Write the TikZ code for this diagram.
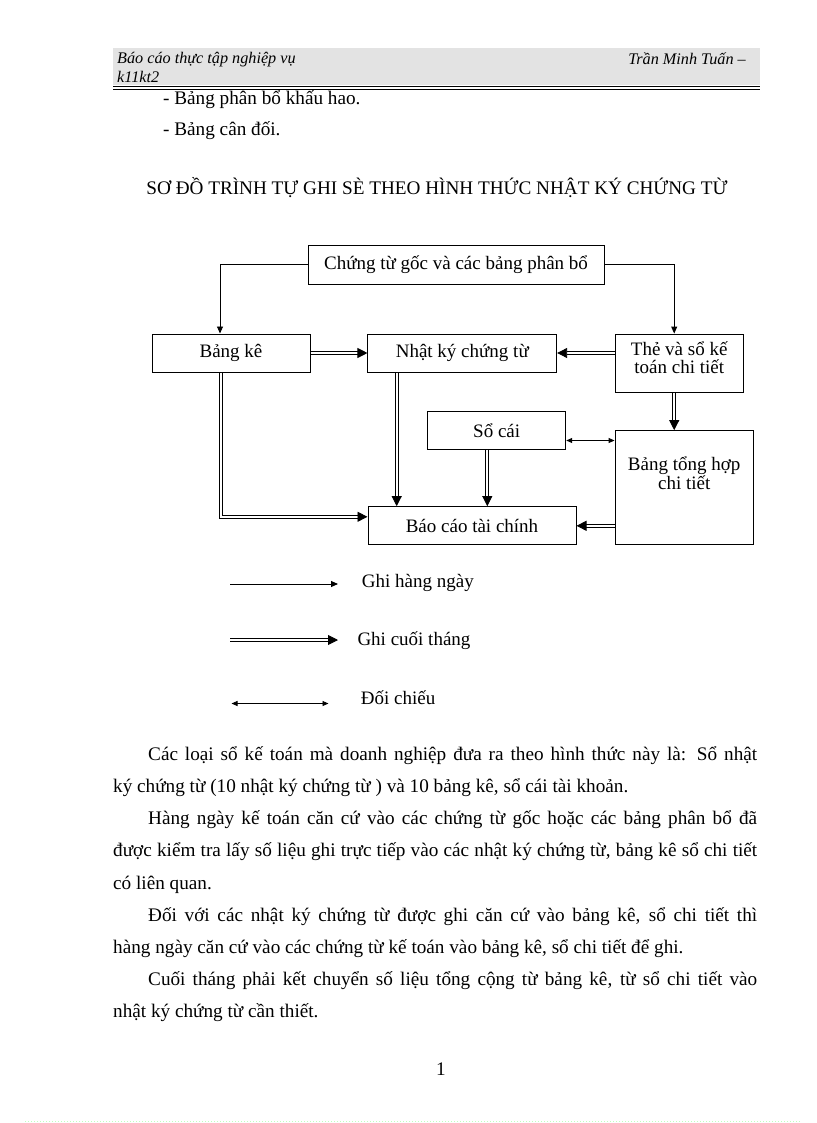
\documentclass[tikz,border=0pt]{standalone}
\usepackage{fontspec}
\setmainfont{Liberation Serif}
\usepackage{tikz}
\usetikzlibrary{arrows.meta,shapes}

\tikzset{
  hop/.style={draw, rectangle, line width=1pt, inner sep=0pt, align=center, font=\fontsize{19}{17.5}\selectfont},
  ngay/.style={line width=0.9pt, -{Triangle[length=7pt,width=6pt]}},
  thang/.style={line width=0.9pt, double, double distance=2pt, -{Triangle[length=10pt,width=10pt]}},
  doichieu/.style={line width=0.9pt, {Triangle[length=6pt,width=5pt]}-{Triangle[length=6pt,width=5pt]}},
  dong/.style={anchor=west, inner sep=0pt, font=\fontsize{19.2}{20}\selectfont},
  chuthich/.style={anchor=west, inner sep=0pt, font=\fontsize{19}{20}\selectfont}
}

\begin{document}
\begin{tikzpicture}[x=1pt,y=-1pt]
\useasboundingbox (0,0) rectangle (816,1123);

\fill[gray!22] (113,48) rectangle (760,85);
\draw[line width=0.8pt] (113,86.5) -- (760,86.5);
\draw[line width=1.6pt] (113,89.5) -- (760,89.5);
\draw (117,60) node[anchor=west, inner sep=0pt, font=\fontsize{16.2}{17}\selectfont\itshape] (dau1) {Báo cáo thực tập nghiệp vụ};
\draw (117,77) node[anchor=west, inner sep=0pt, font=\fontsize{16.2}{17}\selectfont\itshape] (dau2) {k11kt2};
\draw (746,59) node[anchor=east, inner sep=0pt, font=\fontsize{16.2}{17}\selectfont\itshape] (dau3) {Trần Minh Tuấn –};

\draw (163,100) node[dong] (pb1) {- Bảng phân bổ khấu hao.};
\draw (163,131) node[dong] (pb2) {- Bảng cân đối.};
\draw (437,188) node[inner sep=0pt, font=\fontsize{19.2}{20}\selectfont] (tieude) {SƠ ĐỒ TRÌNH TỰ GHI SÈ THEO HÌNH THỨC NHẬT KÝ CHỨNG TỪ};

\node[hop, minimum width=296pt, minimum height=39pt] (goc) at (456,264.5) {Chứng từ gốc và các bảng phân bổ};
\node[hop, minimum width=158pt, minimum height=38pt] (bangke) at (231,353) {Bảng kê};
\node[hop, minimum width=188.7pt, minimum height=38pt] (nhatky) at (462.3,353) {Nhật ký chứng từ};
\node[hop, minimum width=128.3pt, minimum height=58.3pt, text depth=11pt] (the) at (679.2,363.2) {Thẻ và sổ kế\\toán chi tiết};
\node[hop, minimum width=138pt, minimum height=37.6pt] (socai) at (496.7,430.5) {Sổ cái};
\node[hop, minimum width=138.3pt, minimum height=114.3pt, label={[align=center, yshift=15pt, font=\fontsize{19}{16.5}\selectfont]center:Bảng tổng hợp\\chi tiết}] (tonghop) at (684.2,487.8) {};
\node[hop, minimum width=208pt, minimum height=38.3pt] (baocao) at (472,525.8) {Báo cáo tài chính};

\draw[ngay] (goc.west) -| ([xshift=-11pt]bangke.north);
\draw[ngay] (goc.east) -| ([xshift=-5pt]the.north);
\draw[thang] (bangke.east) -- (nhatky.west);
\draw[thang] (the.west |- nhatky.east) -- (nhatky.east);
\draw[thang] ([xshift=-10pt]bangke.south) |- ([yshift=9pt]baocao.west);
\draw[thang] ([xshift=-65.6pt]nhatky.south) -- ([xshift=-65.6pt]nhatky.south |- baocao.north);
\draw[thang] ([xshift=-5pt]the.south) -- ([xshift=-5pt]the.south |- tonghop.north);
\draw[doichieu] ([yshift=-10pt]socai.east) -- ([yshift=-10pt]socai.east -| tonghop.west);
\draw[thang] ([xshift=-9.4pt]socai.south) -- ([xshift=-9.4pt]socai.south |- baocao.north);
\draw[thang] (tonghop.west |- baocao.east) -- (baocao.east);

\coordinate (ngaya) at (230,584);
\coordinate (ngayb) at (338,584);
\coordinate (thanga) at (230,640);
\coordinate (thangb) at (338,640);
\coordinate (doia) at (231.5,703.5);
\coordinate (doib) at (328.5,703.5);
\draw[ngay] (ngaya) -- (ngayb);
\draw[thang] (thanga) -- (thangb);
\draw[doichieu] (doia) -- (doib);
\draw (361.7,583) node[chuthich] (ghingay) {Ghi hàng ngày};
\draw (357.3,640.5) node[chuthich] (ghithang) {Ghi cuối tháng};
\draw (360.7,698) node[chuthich] (ghidoi) {Đối chiếu};

\draw (148,756) node[dong] (d1) {\makebox[609pt][s]{Các loại sổ kế toán mà doanh nghiệp đưa ra theo hình thức này là: Sổ nhật}};
\draw (113,788) node[dong] (d2) {ký chứng từ (10 nhật ký chứng từ ) và 10 bảng kê, sổ cái tài khoản.};
\draw (148,820) node[dong] (d3) {\makebox[609pt][s]{Hàng ngày kế toán căn cứ vào các chứng từ gốc hoặc các bảng phân bổ đã}};
\draw (113,852) node[dong] (d4) {\makebox[644pt][s]{được kiểm tra lấy số liệu ghi trực tiếp vào các nhật ký chứng từ, bảng kê sổ chi tiết}};
\draw (113,885) node[dong] (d5) {có liên quan.};
\draw (148,917) node[dong] (d6) {\makebox[609pt][s]{Đối với các nhật ký chứng từ được ghi căn cứ vào bảng kê, sổ chi tiết thì}};
\draw (113,949) node[dong] (d7) {hàng ngày căn cứ vào các chứng từ kế toán vào bảng kê, sổ chi tiết để ghi.};
\draw (148,981) node[dong] (d8) {\makebox[609pt][s]{Cuối tháng phải kết chuyển số liệu tổng cộng từ bảng kê, từ sổ chi tiết vào}};
\draw (113,1013) node[dong] (d9) {nhật ký chứng từ cần thiết.};
\draw (441,1069) node[inner sep=0pt, font=\fontsize{19.2}{20}\selectfont] (trang) {1};

\draw[green!25, dotted, line width=1pt] (25,1121) -- (800,1121);
\end{tikzpicture}
\end{document}
